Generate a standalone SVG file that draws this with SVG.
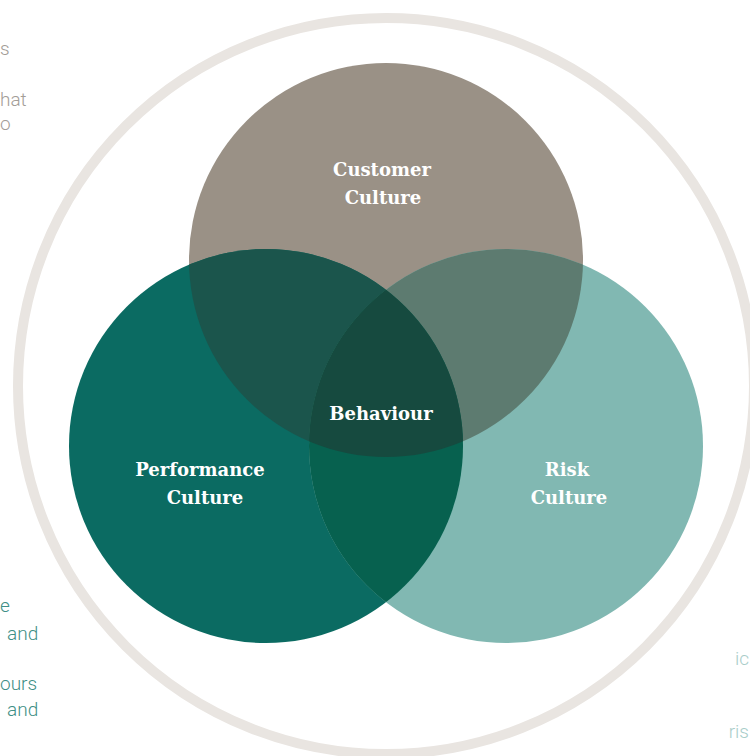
<svg xmlns="http://www.w3.org/2000/svg" width="750" height="756" viewBox="0 0 750 756">
<style>
.lbl{font-family:"DejaVu Serif","Liberation Serif",serif;font-weight:bold;font-size:18px;fill:#ffffff;text-anchor:middle}
.frag{font-family:Roboto,"Liberation Sans",sans-serif;font-weight:300;font-size:19px}
.g{fill:#a39d97}.t{fill:#3f8f86}.lt{fill:#a9cdc9}
</style>
<defs>
<clipPath id="cT"><circle cx="386" cy="260" r="197"/></clipPath>
<clipPath id="cL"><circle cx="266" cy="446" r="197"/></clipPath>
<clipPath id="cR"><circle cx="506" cy="446" r="197"/></clipPath>
</defs>
<rect width="750" height="756" fill="#ffffff"/>
<g id="fragments">
<text class="frag g" x="0" y="55">s</text>
<text class="frag g" x="0" y="106">hat</text>
<text class="frag g" x="0" y="130">o</text>
<text class="frag t" x="0" y="612">e</text>
<text class="frag t" x="7" y="640">and</text>
<text class="frag t" x="0" y="690">ours</text>
<text class="frag t" x="7" y="716">and</text>
<text class="frag lt" x="749" y="665" text-anchor="end">ic</text>
<text class="frag lt" x="749" y="738" text-anchor="end">ris</text>
</g>
<g id="ring"><circle cx="386" cy="386" r="368" fill="none" stroke="#e9e5e1" stroke-width="10"/></g>
<g id="customer">
<circle cx="386" cy="260" r="197" fill="#9a9186"/>
</g>
<g id="performance">
<circle cx="266" cy="446" r="197" fill="#0b6b62"/>
</g>
<g id="risk">
<circle cx="506" cy="446" r="197" fill="#81b8b2"/>
</g>
<g id="overlaps">
<g clip-path="url(#cT)"><circle cx="266" cy="446" r="197" fill="#1b554c"/><circle cx="506" cy="446" r="197" fill="#5d7b70"/></g>
<g clip-path="url(#cL)"><circle cx="506" cy="446" r="197" fill="#07614f"/></g>
<g clip-path="url(#cL)"><g clip-path="url(#cR)"><circle cx="386" cy="260" r="197" fill="#164a3f"/></g></g>
</g>
<g id="labels">
<text class="lbl" x="382" y="176">Customer</text>
<text class="lbl" x="383" y="204">Culture</text>
<text class="lbl" x="381" y="420">Behaviour</text>
<text class="lbl" x="200" y="476">Performance</text>
<text class="lbl" x="205" y="504">Culture</text>
<text class="lbl" x="567" y="476">Risk</text>
<text class="lbl" x="569" y="504">Culture</text>
</g>
</svg>
